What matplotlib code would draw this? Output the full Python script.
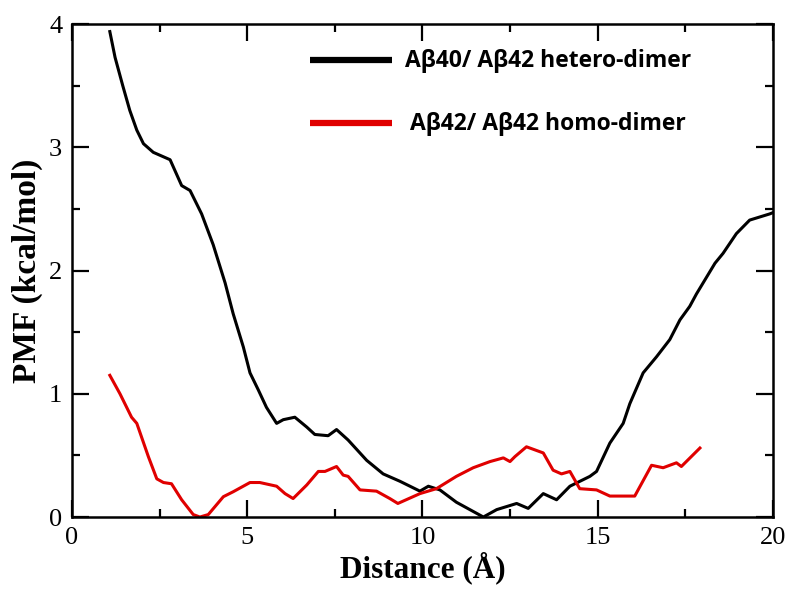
import matplotlib.pyplot as plt
from matplotlib.ticker import MultipleLocator

# hetero-dimer PMF (black)
hetero_x = [1.08, 1.23, 1.45, 1.65, 1.85, 2.04, 2.32, 2.80, 3.13, 3.37, 3.70, 4.03,
            4.37, 4.60, 4.89, 5.08, 5.32, 5.55, 5.84, 6.03, 6.36, 6.70, 6.93, 7.31,
            7.55, 7.88, 8.41, 8.88, 9.36, 9.93, 10.17, 10.50, 10.97, 11.74, 12.12,
            12.69, 13.02, 13.45, 13.83, 14.21, 14.78, 14.97, 15.35, 15.73, 15.92,
            16.30, 16.68, 17.06, 17.35, 17.63, 17.82, 18.35, 18.58, 18.96, 19.34,
            19.91, 20.0]
hetero_y = [3.94, 3.73, 3.50, 3.30, 3.14, 3.03, 2.96, 2.90, 2.69, 2.65, 2.46, 2.21,
            1.90, 1.65, 1.38, 1.17, 1.03, 0.89, 0.76, 0.79, 0.81, 0.73, 0.67, 0.66,
            0.71, 0.625, 0.46, 0.35, 0.29, 0.21, 0.25, 0.22, 0.12, 0.0, 0.06,
            0.11, 0.07, 0.19, 0.14, 0.25, 0.33, 0.37, 0.60, 0.76, 0.92,
            1.17, 1.30, 1.44, 1.60, 1.71, 1.81, 2.06, 2.14, 2.30, 2.41,
            2.46, 2.47]

# homo-dimer PMF (red)
homo_x = [1.08, 1.37, 1.70, 1.85, 2.18, 2.42, 2.61, 2.84, 3.13, 3.46, 3.65, 3.89,
          4.32, 4.60, 5.08, 5.36, 5.84, 6.08, 6.31, 6.70, 7.03, 7.22, 7.55, 7.74,
          7.88, 8.22, 8.69, 9.07, 9.30, 9.93, 10.40, 10.97, 11.45, 11.93, 12.31,
          12.50, 12.64, 12.97, 13.45, 13.73, 13.97, 14.21, 14.49, 14.97, 15.35,
          16.06, 16.54, 16.87, 17.25, 17.39, 17.92]
homo_y = [1.15, 1.00, 0.81, 0.76, 0.49, 0.31, 0.28, 0.27, 0.14, 0.02, 0.0, 0.02,
          0.165, 0.205, 0.28, 0.28, 0.25, 0.19, 0.15, 0.26, 0.37, 0.37, 0.41, 0.34,
          0.33, 0.22, 0.21, 0.15, 0.11, 0.19, 0.23, 0.33, 0.40, 0.45, 0.48,
          0.45, 0.49, 0.57, 0.52, 0.38, 0.35, 0.37, 0.23, 0.22, 0.17,
          0.17, 0.42, 0.40, 0.44, 0.41, 0.56]

labels = ['A\u03b240/ A\u03b242 hetero-dimer', 'A\u03b242/ A\u03b242 homo-dimer']

fig = plt.figure(figsize=(7.91, 5.90), dpi=100)
ax = fig.add_axes([0.091, 0.1237, 0.886, 0.8353])

ax.plot(hetero_x, hetero_y, color='black', lw=2.2)
ax.plot(homo_x, homo_y, color='#e00000', lw=2.2)

ax.set_xlim(0, 20)
ax.set_ylim(0, 4)
ax.xaxis.set_major_locator(MultipleLocator(5))
ax.xaxis.set_minor_locator(MultipleLocator(2.5))
ax.yaxis.set_major_locator(MultipleLocator(1))
ax.yaxis.set_minor_locator(MultipleLocator(0.5))
ax.tick_params(which='both', direction='in', top=True, right=True, width=1.6,
               labelsize=19, pad=7)
ax.tick_params(which='major', length=12)
ax.tick_params(which='minor', length=6)
for lab in ax.get_xticklabels() + ax.get_yticklabels():
    lab.set_family('Liberation Serif')
for s in ax.spines.values():
    s.set_linewidth(1.8)

ax.set_xlabel('Distance (\u00c5)', family='Liberation Serif', fontweight='bold',
              fontsize=22.5, labelpad=2)
ax.set_ylabel('PMF (kcal/mol)', family='Liberation Serif', fontweight='bold',
              fontsize=24, labelpad=4)

# hand-made legend
ax.plot([6.8, 9.13], [3.708, 3.708], color='black', lw=4.5, solid_capstyle='butt')
ax.plot([6.8, 9.13], [3.197, 3.197], color='#e00000', lw=4.5, solid_capstyle='butt')
ax.text(9.5, 3.70, labels[0], family='Open Sans', fontweight='bold', fontsize=16.5,
        va='center')
ax.text(9.65, 3.19, labels[1], family='Open Sans', fontweight='bold', fontsize=16.5,
        va='center')

fig.savefig('out.png', dpi=100)
